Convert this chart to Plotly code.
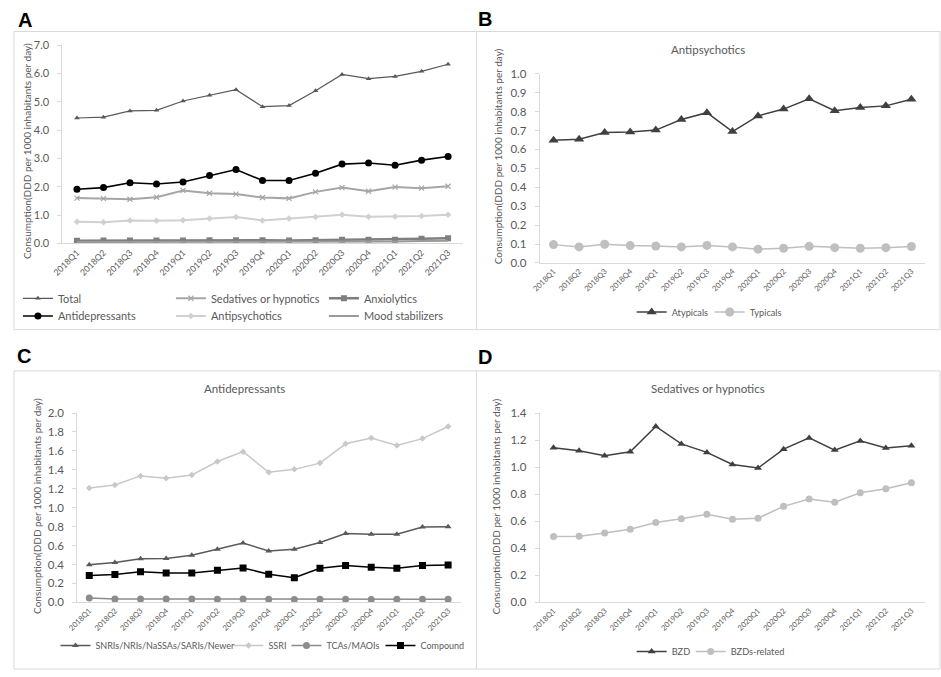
import plotly.graph_objects as go

# ---------------- data ----------------
quarters = ["2018Q1", "2018Q2", "2018Q3", "2018Q4", "2019Q1", "2019Q2", "2019Q3", "2019Q4",
            "2020Q1", "2020Q2", "2020Q3", "2020Q4", "2021Q1", "2021Q2", "2021Q3"]

# Panel A
total = [4.43, 4.46, 4.68, 4.70, 5.03, 5.23, 5.43, 4.83, 4.87, 5.39, 5.97, 5.82, 5.90, 6.08, 6.33]
sedatives = [1.60, 1.58, 1.56, 1.63, 1.87, 1.77, 1.74, 1.62, 1.59, 1.82, 1.97, 1.84, 1.99, 1.95, 2.02]
anxiolytics = [0.09, 0.10, 0.10, 0.10, 0.10, 0.11, 0.11, 0.11, 0.10, 0.11, 0.13, 0.13, 0.13, 0.16, 0.18]
antidepressants = [1.91, 1.97, 2.14, 2.10, 2.17, 2.40, 2.61, 2.22, 2.22, 2.48, 2.80, 2.84, 2.76, 2.94, 3.07]
antipsychotics = [0.76, 0.75, 0.81, 0.80, 0.82, 0.88, 0.93, 0.81, 0.88, 0.93, 1.01, 0.94, 0.95, 0.97, 1.01]
mood_stabilizers = [0.05, 0.05, 0.05, 0.05, 0.05, 0.05, 0.05, 0.05, 0.05, 0.05, 0.07, 0.07, 0.07, 0.08, 0.09]

# Panel B
atypicals = [0.649, 0.654, 0.689, 0.692, 0.702, 0.758, 0.794, 0.694, 0.777, 0.813, 0.867, 0.804, 0.822, 0.830, 0.865]
typicals = [0.097, 0.085, 0.099, 0.092, 0.090, 0.085, 0.093, 0.085, 0.073, 0.078, 0.088, 0.081, 0.078, 0.081, 0.087]

# Panel C
snri = [0.398, 0.422, 0.460, 0.464, 0.498, 0.561, 0.626, 0.543, 0.561, 0.633, 0.727, 0.720, 0.720, 0.796, 0.799]
ssri = [1.208, 1.239, 1.336, 1.311, 1.346, 1.488, 1.592, 1.374, 1.405, 1.471, 1.675, 1.737, 1.657, 1.730, 1.858]
tcas = [0.045, 0.036, 0.036, 0.035, 0.036, 0.033, 0.035, 0.033, 0.030, 0.033, 0.033, 0.031, 0.034, 0.033, 0.033]
compound = [0.284, 0.294, 0.322, 0.311, 0.311, 0.339, 0.363, 0.298, 0.260, 0.360, 0.388, 0.370, 0.360, 0.388, 0.394]

# Panel D
bzd = [1.143, 1.121, 1.085, 1.114, 1.301, 1.172, 1.109, 1.020, 0.993, 1.133, 1.216, 1.126, 1.194, 1.141, 1.158]
bzd_related = [0.487, 0.489, 0.513, 0.540, 0.591, 0.618, 0.651, 0.615, 0.622, 0.710, 0.765, 0.741, 0.811, 0.840, 0.884]

y_title = "Consumption(DDD per 1000 inhabitants per day)"

# ---------------- helpers ----------------
W, H = 941, 677
FONT = "Lato"
TXT = "#595959"


def fx(p):
    return p / W


def fy(p):
    return 1 - p / H


fig = go.Figure()


def add(name, y, xa, ya, color, width, symbol, size, legend, lw=None, mode="lines+markers"):
    kw = {}
    if lw is not None:
        kw["legendwidth"] = lw
    fig.add_trace(go.Scatter(
        x=quarters, y=y, name=name, mode=mode, xaxis=xa, yaxis=ya,
        line=dict(color=color, width=width),
        marker=dict(symbol=symbol, size=size, color=color, line=dict(width=0, color=color)),
        legend=legend, **kw))


# Panel A (row 1 of legend, then row 2)
add("Total", total, "x", "y", "#595959", 1.2, "triangle-up", 5, "legend")
add("Sedatives or hypnotics", sedatives, "x", "y", "#a6a6a6", 2, "x-thin-open", 5, "legend")
add("Anxiolytics", anxiolytics, "x", "y", "#7f7f7f", 2.5, "square", 6, "legend")
add("Antidepressants", antidepressants, "x", "y", "#000000", 1.6, "circle", 7, "legend2")
add("Antipsychotics", antipsychotics, "x", "y", "#d0d0d0", 2, "diamond", 5, "legend2")
add("Mood stabilizers", mood_stabilizers, "x", "y", "#9a9a9a", 2, "circle", 1, "legend2", mode="lines")
fig.data[1].marker.line = dict(width=1.2, color="#a6a6a6")

# Panel B
add("Atypicals", atypicals, "x2", "y2", "#404040", 1.5, "triangle-up", 9, "legend3")
add("Typicals", typicals, "x2", "y2", "#bfbfbf", 1.5, "circle", 9, "legend3")

# Panel C
add("SNRIs/NRIs/NaSSAs/SARIs/Newer", snri, "x3", "y3", "#595959", 1.5, "triangle-up", 6, "legend4", 128)
add("SSRI", ssri, "x3", "y3", "#c8c8c8", 1.5, "diamond", 5, "legend4", 13)
add("TCAs/MAOIs", tcas, "x3", "y3", "#8c8c8c", 1.5, "circle", 7, "legend4", 49)
add("Compound", compound, "x3", "y3", "#000000", 1.5, "square", 7, "legend4", 45)

# Panel D
add("BZD", bzd, "x4", "y4", "#404040", 1.5, "triangle-up", 7, "legend5", 14)
add("BZDs-related", bzd_related, "x4", "y4", "#bfbfbf", 1.5, "circle", 7, "legend5", 50)


def xaxis(domain, anchor, rng, fsize):
    return dict(domain=domain, anchor=anchor, type="category", range=rng,
                showline=True, linecolor="#d9d9d9", linewidth=1, ticks="",
                showgrid=False, zeroline=False, tickangle=-45,
                tickfont=dict(family=FONT, size=fsize, color=TXT), fixedrange=True)


def yaxis(domain, anchor, rng, dtick, fsize):
    return dict(domain=domain, anchor=anchor, range=rng, dtick=dtick, tick0=0,
                tickformat=".1f", showline=True, linecolor="#d9d9d9", linewidth=1,
                ticks="outside", ticklen=4, tickcolor="#d9d9d9", ticklabelstandoff=6,
                showgrid=False, zeroline=False,
                tickfont=dict(family=FONT, size=fsize, color=TXT), fixedrange=True)


fig.update_layout(
    width=W, height=H, margin=dict(l=0, r=0, t=0, b=0),
    paper_bgcolor="white", plot_bgcolor="white",
    font=dict(family=FONT, color=TXT),
    xaxis=xaxis([fx(52), fx(457)], "y", [-0.55, 14.55], 8.7),
    yaxis=yaxis([fy(241), fy(39)], "x", [0, 7], 1, 11),
    xaxis2=xaxis([fx(535), fx(925)], "y2", [-0.54, 14.54], 7.6),
    yaxis2=yaxis([fy(261), fy(68)], "x2", [0, 1], 0.1, 11.5),
    xaxis3=xaxis([fx(67), fx(455)], "y3", [-0.47, 14.49], 7.6),
    yaxis3=yaxis([fy(607), fy(414)], "x3", [0, 2], 0.2, 11.5),
    xaxis4=xaxis([fx(535), fx(925)], "y4", [-0.54, 14.54], 7.6),
    yaxis4=yaxis([fy(607), fy(414)], "x4", [0, 1.4], 0.2, 11.5),
)

leg_common = dict(orientation="h", xanchor="left", yanchor="middle", bgcolor="rgba(0,0,0,0)",
                  traceorder="normal")
fig.update_layout(
    legend=dict(x=fx(7), y=fy(297), entrywidth=108, font=dict(family=FONT, size=11, color=TXT), **leg_common),
    legend2=dict(x=fx(7), y=fy(315), entrywidth=108, font=dict(family=FONT, size=11, color=TXT), **leg_common),
    legend3=dict(x=fx(628), y=fy(311), entrywidth=33, font=dict(family=FONT, size=9.2, color=TXT), **leg_common),
    legend4=dict(x=fx(45), y=fy(651), font=dict(family=FONT, size=9, color=TXT), **leg_common),
    legend5=dict(x=fx(628), y=fy(657), font=dict(family=FONT, size=9.2, color=TXT), **leg_common),
)

# panel frames
shapes = []
for (x0, y0, x1, y1) in [(3, 25, 471, 329), (471, 25, 940, 329), (3, 371, 471, 675), (471, 371, 940, 675)]:
    shapes.append(dict(type="rect", xref="paper", yref="paper", x0=fx(x0), x1=fx(x1), y0=fy(y1), y1=fy(y0),
                       line=dict(color="#d9d9d9", width=1), fillcolor="rgba(0,0,0,0)", layer="below"))
fig.update_layout(shapes=shapes)

ann = []
# panel letters
for letter, x, y in [("A", 5, 13), ("B", 470, 12), ("C", 4, 356), ("D", 470, 357)]:
    ann.append(dict(text="<b>%s</b>" % letter, x=fx(x), y=fy(y), xref="paper", yref="paper",
                    xanchor="left", yanchor="middle", showarrow=False,
                    font=dict(family="Liberation Sans", size=20, color="black")))
# panel titles
for t, x, y in [("Antipsychotics", 705, 43), ("Antidepressants", 236, 389), ("Sedatives or hypnotics", 705, 389)]:
    ann.append(dict(text=t, x=fx(x), y=fy(y), xref="paper", yref="paper", xanchor="center",
                    yanchor="middle", showarrow=False, font=dict(family=FONT, size=11.5, color=TXT)))
# axis titles
for x, y in [(16, 147), (493, 152), (27, 509), (491, 509)]:
    ann.append(dict(text=y_title, x=fx(x), y=fy(y), xref="paper", yref="paper", xanchor="center",
                    yanchor="middle", textangle=-90, showarrow=False,
                    font=dict(family=FONT, size=10, color=TXT)))
fig.update_layout(annotations=ann)

fig.write_html("out.html", config={"displayModeBar": False},
               post_script="document.body.style.margin='0';")

# make sure the page has no default body margin
with open("out.html", "r", encoding="utf-8") as f:
    html = f.read()
html = html.replace("<head>", "<head><style>html,body{margin:0;padding:0;overflow:hidden;}</style>", 1)
with open("out.html", "w", encoding="utf-8") as f:
    f.write(html)
